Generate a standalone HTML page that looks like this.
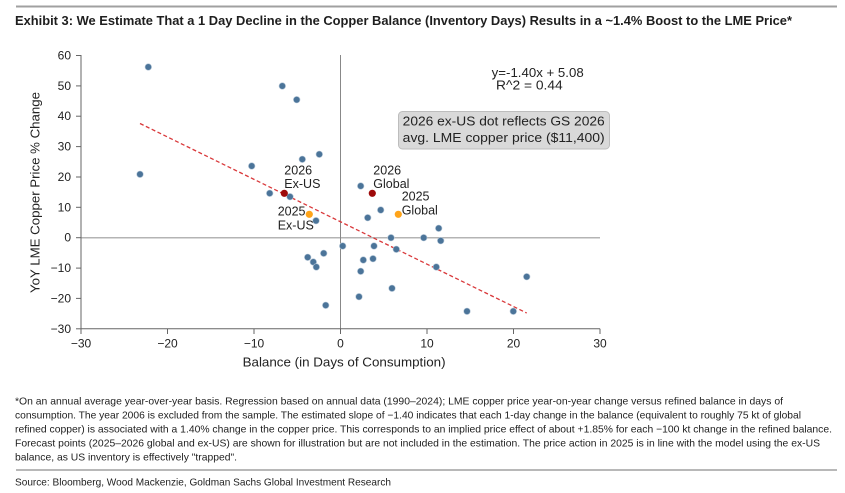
<!DOCTYPE html>
<html><head><meta charset="utf-8"><style>
html,body{margin:0;padding:0;background:#fff;}
svg{display:block;}
.t{font-family:"Liberation Sans",Arial,sans-serif;fill:#222;}
.n{font-family:"Liberation Sans Narrow","Liberation Sans",sans-serif;fill:#1e1e1e;}
</style></head><body>
<svg width="845" height="493" viewBox="0 0 845 493" xmlns="http://www.w3.org/2000/svg">
<rect width="845" height="493" fill="#fff"/>
<line x1="16" y1="6.5" x2="837" y2="6.5" stroke="#a0a0a0" stroke-width="2"/>
<text class="n" x="15" y="25" font-size="13" font-weight="bold" fill="#151a2a" textLength="777" lengthAdjust="spacingAndGlyphs">Exhibit 3: We Estimate That a 1 Day Decline in the Copper Balance (Inventory Days) Results in a ~1.4% Boost to the LME Price*</text>

<!-- zero lines -->
<line x1="81" y1="237.7" x2="600" y2="237.7" stroke="#b4b4b4" stroke-width="1.5"/>
<line x1="340.5" y1="55" x2="340.5" y2="328.8" stroke="#888" stroke-width="1"/>
<!-- axes -->
<g stroke="#666" stroke-width="1">
<line x1="81" y1="55" x2="81" y2="328.8"/>
<line x1="81" y1="328.8" x2="600" y2="328.8"/>
<line x1="76" y1="55.5" x2="81" y2="55.5"/>
<line x1="76" y1="85.9" x2="81" y2="85.9"/>
<line x1="76" y1="116.2" x2="81" y2="116.2"/>
<line x1="76" y1="146.6" x2="81" y2="146.6"/>
<line x1="76" y1="177" x2="81" y2="177"/>
<line x1="76" y1="207.3" x2="81" y2="207.3"/>
<line x1="76" y1="237.7" x2="81" y2="237.7"/>
<line x1="76" y1="268.1" x2="81" y2="268.1"/>
<line x1="76" y1="298.4" x2="81" y2="298.4"/>
<line x1="76" y1="328.8" x2="81" y2="328.8"/>
<line x1="81" y1="328.8" x2="81" y2="334"/>
<line x1="167.5" y1="328.8" x2="167.5" y2="334"/>
<line x1="254" y1="328.8" x2="254" y2="334"/>
<line x1="340.5" y1="328.8" x2="340.5" y2="334"/>
<line x1="427" y1="328.8" x2="427" y2="334"/>
<line x1="513.5" y1="328.8" x2="513.5" y2="334"/>
<line x1="600" y1="328.8" x2="600" y2="334"/>
</g>
<g class="t" font-size="12" text-anchor="end" fill="#333">
<text x="71" y="59.5">60</text>
<text x="71" y="89.9">50</text>
<text x="71" y="120.2">40</text>
<text x="71" y="150.6">30</text>
<text x="71" y="181">20</text>
<text x="71" y="211.3">10</text>
<text x="71" y="241.7">0</text>
<text x="71" y="272.1">−10</text>
<text x="71" y="302.4">−20</text>
<text x="71" y="332.8">−30</text>
</g>
<g class="t" font-size="12" text-anchor="middle" fill="#333">
<text x="81" y="347.5">−30</text>
<text x="167.5" y="347.5">−20</text>
<text x="254" y="347.5">−10</text>
<text x="340.5" y="347.5">0</text>
<text x="427" y="347.5">10</text>
<text x="513.5" y="347.5">20</text>
<text x="600" y="347.5">30</text>
</g>
<text class="t" x="242.6" y="366.5" font-size="12.5" fill="#333" textLength="203" lengthAdjust="spacingAndGlyphs">Balance (in Days of Consumption)</text>
<text class="t" transform="translate(39.5,293) rotate(-90)" x="0" y="0" font-size="12.5" fill="#333" textLength="201" lengthAdjust="spacingAndGlyphs">YoY LME Copper Price % Change</text>

<!-- regression -->
<line x1="140" y1="123.5" x2="526.7" y2="313" stroke="#d9383a" stroke-width="1.3" stroke-dasharray="4,2.5"/>

<!-- points -->
<g fill="#4b7499" stroke="#b7c8d8" stroke-width="0.6">
<circle cx="148.3" cy="67" r="3.3"/>
<circle cx="140" cy="174.3" r="3.3"/>
<circle cx="282.3" cy="86" r="3.3"/>
<circle cx="296.7" cy="99.7" r="3.3"/>
<circle cx="251.7" cy="166" r="3.3"/>
<circle cx="269.7" cy="193.3" r="3.3"/>
<circle cx="290" cy="196.7" r="3.3"/>
<circle cx="302.3" cy="159.3" r="3.3"/>
<circle cx="319.3" cy="154.3" r="3.3"/>
<circle cx="316" cy="220.7" r="3.3"/>
<circle cx="360.7" cy="186" r="3.3"/>
<circle cx="380.7" cy="210" r="3.3"/>
<circle cx="367.7" cy="217.7" r="3.3"/>
<circle cx="438.7" cy="228.3" r="3.3"/>
<circle cx="391" cy="237.7" r="3.3"/>
<circle cx="423.7" cy="237.7" r="3.3"/>
<circle cx="440.7" cy="240.7" r="3.3"/>
<circle cx="342.7" cy="246" r="3.3"/>
<circle cx="374" cy="246" r="3.3"/>
<circle cx="396.3" cy="249.3" r="3.3"/>
<circle cx="307.7" cy="257.3" r="3.3"/>
<circle cx="313.3" cy="262" r="3.3"/>
<circle cx="316.3" cy="267" r="3.3"/>
<circle cx="323.7" cy="253.3" r="3.3"/>
<circle cx="363.3" cy="260" r="3.3"/>
<circle cx="373" cy="258.7" r="3.3"/>
<circle cx="360.7" cy="271.3" r="3.3"/>
<circle cx="359" cy="296.7" r="3.3"/>
<circle cx="392" cy="288.3" r="3.3"/>
<circle cx="436.3" cy="267" r="3.3"/>
<circle cx="526.7" cy="276.7" r="3.3"/>
<circle cx="467" cy="311.3" r="3.3"/>
<circle cx="513.3" cy="311.3" r="3.3"/>
<circle cx="325.7" cy="305.3" r="3.3"/>
</g>
<circle cx="284.3" cy="193.3" r="3.6" fill="#9e0a0a"/>
<circle cx="372.3" cy="193.3" r="3.6" fill="#9e0a0a"/>
<circle cx="309.3" cy="214.3" r="3.6" fill="#ffa41a"/>
<circle cx="398.3" cy="214.3" r="3.6" fill="#ffa41a"/>

<!-- point labels -->
<g class="t" font-size="12.5" fill="#222">
<text x="284.3" y="174.5">2026</text>
<text x="284.3" y="188">Ex-US</text>
<text x="277.7" y="215.5">2025</text>
<text x="277.7" y="229.5">Ex-US</text>
<text x="373.3" y="174.5">2026</text>
<text x="373.3" y="188">Global</text>
<text x="401.7" y="200.5">2025</text>
<text x="401.7" y="214.5">Global</text>
</g>

<!-- equation -->
<text class="t" x="491.7" y="77" font-size="12.5" fill="#222" textLength="92" lengthAdjust="spacingAndGlyphs">y=-1.40x + 5.08</text>
<text class="t" x="496" y="89.5" font-size="12.5" fill="#222" textLength="66.7" lengthAdjust="spacingAndGlyphs">R^2 =  0.44</text>

<!-- annotation box -->
<rect x="398.5" y="111.5" width="211" height="37.5" rx="4" ry="4" fill="#d9d9d9" stroke="#bdbdbd" stroke-width="1"/>
<text class="t" x="402.7" y="125.5" font-size="12.5" fill="#222" textLength="202" lengthAdjust="spacingAndGlyphs">2026 ex-US dot reflects GS 2026</text>
<text class="t" x="402.7" y="141.8" font-size="12.5" fill="#222" textLength="202" lengthAdjust="spacingAndGlyphs">avg. LME copper price ($11,400)</text>

<!-- footnote -->
<g class="n" font-size="10.5">
<text x="15" y="404.5" textLength="768" lengthAdjust="spacingAndGlyphs">*On an annual average year-over-year basis. Regression based on annual data (1990–2024); LME copper price year-on-year change versus refined balance in days of</text>
<text x="15" y="418.5" textLength="786" lengthAdjust="spacingAndGlyphs">consumption. The year 2006 is excluded from the sample. The estimated slope of −1.40 indicates that each 1-day change in the balance (equivalent to roughly 75 kt of global</text>
<text x="15" y="432.5" textLength="817" lengthAdjust="spacingAndGlyphs">refined copper) is associated with a 1.40% change in the copper price. This corresponds to an implied price effect of about +1.85% for each −100 kt change in the refined balance.</text>
<text x="15" y="446.5" textLength="805" lengthAdjust="spacingAndGlyphs">Forecast points (2025–2026 global and ex-US) are shown for illustration but are not included in the estimation. The price action in 2025 is in line with the model using the ex-US</text>
<text x="15" y="460.5" textLength="222" lengthAdjust="spacingAndGlyphs">balance, as US inventory is effectively "trapped".</text>
</g>
<line x1="16" y1="470" x2="837" y2="470" stroke="#a0a0a0" stroke-width="1.5"/>
<text class="n" x="15" y="485.5" font-size="10.5" textLength="376" lengthAdjust="spacingAndGlyphs">Source: Bloomberg, Wood Mackenzie, Goldman Sachs Global Investment Research</text>
</svg>
</body></html>
